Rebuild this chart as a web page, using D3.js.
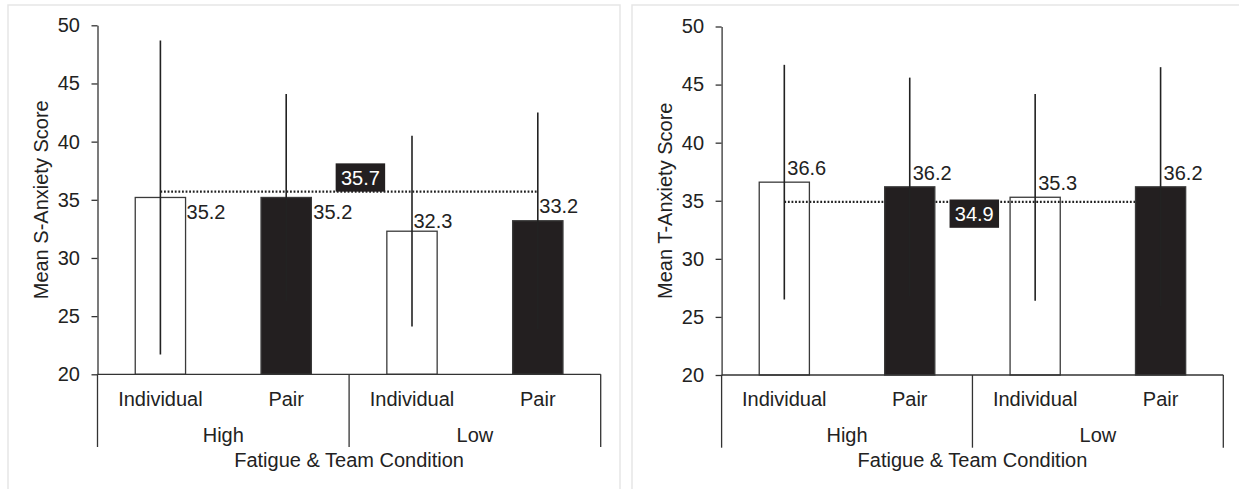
<!DOCTYPE html>
<html>
<head>
<meta charset="utf-8">
<script src="https://cdn.jsdelivr.net/npm/d3@7"></script>
<style>
  body { margin: 0; background: #fff; }
  text { font-family: "Liberation Sans", Arial, sans-serif; fill: #222; }
</style>
</head>
<body>
<div id="chart"></div>
<script>
// data
const fatigueLevels = ["High", "Low"]
const teamTypes = ["Individual", "Pair"]
const yTicks = [20, 25, 30, 35, 40, 45, 50]

const sAnxietyMeans = [35.2, 35.2, 32.3, 33.2]
const sAnxietySD = [13.5, 8.9, 8.2, 9.3]
const sAnxietyOverall = 35.7

const tAnxietyMeans = [36.6, 36.2, 35.3, 36.2]
const tAnxietySD = [10.1, 9.4, 8.9, 10.3]
const tAnxietyOverall = 34.9

// each bar = fatigue level x team type
const categories = fatigueLevels.flatMap(f => teamTypes.map(t => f + "-" + t))

const width = 1239
const height = 489
const fontSize = "20px"

const svg = d3.select("div#chart").append("svg").attr("width", width).attr("height", height)

// panel frames
svg.append("rect").attr("x", 8).attr("y", 5).attr("width", 612).attr("height", 500)
    .attr("fill", "none").attr("stroke", "#e6e6e6").attr("stroke-width", 1.5)
svg.append("rect").attr("x", 632).attr("y", 5).attr("width", 620).attr("height", 500)
    .attr("fill", "none").attr("stroke", "#e6e6e6").attr("stroke-width", 1.5)

// chart layout (positions only)
const charts = [
    {
        means: sAnxietyMeans, sd: sAnxietySD, overall: sAnxietyOverall,
        title: "Mean S-Anxiety Score",
        left: 97.5, right: 600.7, top: 25.3, bottom: 374.3,
        boxCenter: 262.9, boxAbove: true,
        // label anchors: [reference, dx, dy] reference = "right" edge or "center", dy from bar top (baseline)
        labels: [["right", 1, 22], ["right", 2, 22], ["center", 1.5, -3], ["center", 1.5, -8]]
    },
    {
        means: tAnxietyMeans, sd: tAnxietySD, overall: tAnxietyOverall,
        title: "Mean T-Anxiety Score",
        left: 721.6, right: 1223.3, top: 26.5, bottom: 375,
        boxCenter: 252.7, boxAbove: false,
        labels: [["center", 3, -7], ["center", 3, -7], ["center", 3, -7], ["center", 3, -7]]
    }
]

charts.forEach(drawChart)

function drawChart(c) {
    const g = svg.append("g").attr("transform", `translate(${c.left}, 0)`)
    const w = c.right - c.left

    const x = d3.scaleBand().domain(categories).range([0, w]).paddingInner(0.6).paddingOuter(0.3)
    const y = d3.scaleLinear().domain([20, 50]).range([c.bottom, c.top])

    // overall mean dotted line (behind bars)
    const x1 = x(categories[0]) + x.bandwidth() / 2
    const x2 = x(categories[3]) + x.bandwidth() / 2
    g.append("line")
        .attr("x1", x1).attr("x2", x2)
        .attr("y1", y(c.overall)).attr("y2", y(c.overall))
        .attr("stroke", "#222").attr("stroke-width", 2.2).attr("stroke-dasharray", "1.8,1.8")

    // bars
    g.selectAll("rect.bar").data(c.means).enter()
        .append("rect")
        .attr("class", "bar")
        .attr("x", (d, i) => x(categories[i]))
        .attr("y", d => y(d))
        .attr("width", x.bandwidth())
        .attr("height", d => c.bottom - y(d))
        .attr("fill", (d, i) => i % 2 === 0 ? "none" : "#231f20")
        .attr("stroke", "#3a3a3a")
        .attr("stroke-width", 1.3)

    // error bars (no caps)
    g.selectAll("line.err").data(c.means).enter()
        .append("line")
        .attr("class", "err")
        .attr("x1", (d, i) => x(categories[i]) + x.bandwidth() / 2)
        .attr("x2", (d, i) => x(categories[i]) + x.bandwidth() / 2)
        .attr("y1", (d, i) => y(d + c.sd[i]))
        .attr("y2", (d, i) => y(d - c.sd[i]))
        .attr("stroke", "#222").attr("stroke-width", 1.6)

    // value labels
    g.selectAll("text.val").data(c.means).enter()
        .append("text")
        .attr("class", "val")
        .attr("x", (d, i) => {
            const l = c.labels[i]
            const base = l[0] === "right" ? x(categories[i]) + x.bandwidth() : x(categories[i]) + x.bandwidth() / 2
            return base + l[1]
        })
        .attr("y", (d, i) => y(d) + c.labels[i][2])
        .attr("font-size", fontSize)
        .text(d => d.toFixed(1))

    // overall mean box
    const boxW = 49.5, boxH = 28.3
    const boxY = c.boxAbove ? y(c.overall) - boxH : y(c.overall) - 2.4
    g.append("rect")
        .attr("x", c.boxCenter - boxW / 2).attr("y", boxY)
        .attr("width", boxW).attr("height", boxH)
        .attr("fill", "#231f20")
    g.append("text")
        .attr("x", c.boxCenter).attr("y", boxY + boxH / 2)
        .attr("dy", "0.36em")
        .attr("text-anchor", "middle")
        .attr("font-size", fontSize)
        .style("fill", "#fff")
        .text(c.overall.toFixed(1))

    // y axis
    const yAxis = d3.axisLeft(y).tickValues(yTicks).tickSize(6).tickPadding(11.5).tickSizeOuter(0)
    const yAxisGroup = g.append("g").attr("class", "yAxisGroup").call(yAxis)
    yAxisGroup.select(".domain").attr("stroke", "#333").attr("stroke-width", 1.3)
    yAxisGroup.selectAll(".tick line").attr("stroke", "#333").attr("stroke-width", 1.3)
    yAxisGroup.selectAll(".tick text").attr("font-size", fontSize)
        .attr("font-family", "Liberation Sans, Arial, sans-serif").attr("fill", "#222")

    // x axis line
    g.append("line").attr("x1", 0).attr("x2", w).attr("y1", c.bottom).attr("y2", c.bottom)
        .attr("stroke", "#333").attr("stroke-width", 1.3)

    // group dividers
    const dividers = [0, w / 2, w]
    g.selectAll("line.div").data(dividers).enter()
        .append("line").attr("class", "div")
        .attr("x1", d => d).attr("x2", d => d)
        .attr("y1", c.bottom).attr("y2", c.bottom + 72.7)
        .attr("stroke", "#333").attr("stroke-width", 1.3)

    // category labels
    g.selectAll("text.cat").data(categories).enter()
        .append("text").attr("class", "cat")
        .attr("x", d => x(d) + x.bandwidth() / 2)
        .attr("y", c.bottom + 31.4)
        .attr("text-anchor", "middle")
        .attr("font-size", fontSize)
        .text(d => d.split("-")[1])

    // group labels
    g.selectAll("text.grp").data(fatigueLevels).enter()
        .append("text").attr("class", "grp")
        .attr("x", (d, i) => w / 4 + i * w / 2)
        .attr("y", c.bottom + 67.4)
        .attr("text-anchor", "middle")
        .attr("font-size", fontSize)
        .text(d => d)

    // axis titles
    g.append("text")
        .attr("x", w / 2).attr("y", c.bottom + 92.4)
        .attr("text-anchor", "middle")
        .attr("font-size", fontSize)
        .text("Fatigue & Team Condition")

    g.append("text")
        .attr("transform", `translate(-49.5, ${(c.top + c.bottom) / 2}) rotate(-90)`)
        .attr("text-anchor", "middle")
        .attr("font-size", fontSize)
        .text(c.title)
}
</script>
</body>
</html>
